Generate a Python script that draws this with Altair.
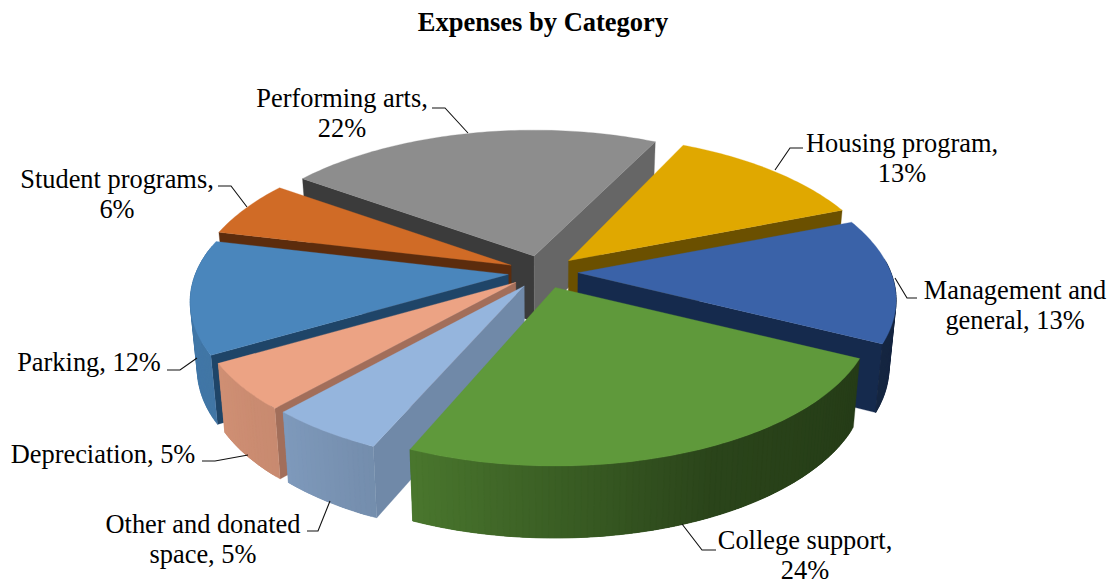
import math
import numpy as np
import pandas as pd
import altair as alt

categories = ["Housing program", "Management and general", "College support",
              "Other and donated space", "Depreciation", "Parking",
              "Student programs", "Performing arts"]
shares = [12.1, 13.3, 24.0, 5.3, 5.0, 12.1, 6.1, 22.1]
top_colors = ["#E0A800", "#3A62A8", "#5F993B", "#95B5DD", "#ECA384", "#4A86BC", "#D06B26", "#8D8D8D"]
start_cut = [None, None, None, "#7089A8", "#A26E5A", "#1F4568", "#5C2C0D", "#3B3B3B"]
end_cut = ["#6B5000", "#152A4D", None, None, None, None, None, "#666666"]
draw_order = [7, 0, 6, 1, 5, 4, 3, 2]
start_nudge = [0, 0, 0, 1.0, 0, 0, 0, 0]
end_nudge = [0, 0, 0, 0, 0, 0, 0, 1.5]

label_lines = [
    (["Housing program,", "13%"], 902, 144),
    (["Management and", "general, 13%"], 1015, 291),
    (["College support,", "24%"], 805, 541),
    (["Other and donated", "space, 5%"], 203, 525),
    (["Depreciation, 5%"], 103, 455),
    (["Parking, 12%"], 89, 363),
    (["Student programs,", "6%"], 117, 180),
    (["Performing arts,", "22%"], 342, 99),
]
leaders = [
    [(803, 148), (790, 148), (775, 170)],
    [(917, 298), (907, 298), (895, 278)],
    [(716, 550), (702, 550), (682, 524)],
    [(307, 531), (318, 531), (330, 501)],
    [(202, 461), (215, 461), (248, 455)],
    [(167, 370), (180, 370), (197, 358)],
    [(218, 186), (231, 186), (247, 207)],
    [(432, 108), (445, 108), (468, 133)],
]

CX, CY, EXPLODE, TILT = 543, 272, 35, 0.47
START_ANGLE = 25


def shade(hex_color, k):
    rgb = [int(hex_color[i:i + 2], 16) for i in (1, 3, 5)]
    return "#%02x%02x%02x" % tuple(int(c * k) for c in rgb)


def rim(ax, ay, deg):
    t = math.radians(deg)
    v = -math.cos(t)
    rad = 313 + 56 * v + 11 * v * v
    return ax + rad * math.sin(t), ay + TILT * rad * (-math.cos(t)), v


def down(x, y, v):
    return CX + (x - CX) * 0.98, y + 66 + 6 * v


rows = []
pid = 0


def add(points, color):
    global pid
    for j, (x, y) in enumerate(list(points) + [points[0]]):
        rows.append({"x": x, "y": y, "poly": pid, "j": j, "color": color})
    pid += 1


bounds = [START_ANGLE]
for s in shares:
    bounds.append(bounds[-1] + s * 3.6)

for i in draw_order:
    a0, a1 = bounds[i], bounds[i + 1]
    mid = math.radians((a0 + a1) / 2)
    ax = CX + EXPLODE * math.sin(mid)
    ay = CY - EXPLODE * TILT * math.cos(mid)
    a0 += start_nudge[i]
    a1 += end_nudge[i]
    apex_low = down(ax, ay, 0)
    for ang, col in ((a0, start_cut[i]), (a1, end_cut[i])):
        if col:
            x, y, v = rim(ax, ay, ang)
            add([(ax, ay), (x, y), down(x, y, v), apex_low], col)
    angs = np.linspace(a0, a1, int((a1 - a0)) + 2)
    for n, p in enumerate(angs[:-1]):
        q_far = angs[min(n + 3, len(angs) - 1)]
        q = angs[n + 1]
        m = (p + q) / 2 % 360
        if 85 < m < 280:
            k = float(np.interp(m, [90, 116, 155, 180, 203, 222, 240, 270],
                                [0.38, 0.39, 0.45, 0.62, 0.78, 0.85, 0.88, 0.9]))
            mids = [a for a in angs if p <= a <= q_far]
            front = [rim(ax, ay, a) for a in mids]
            add([f[:2] for f in front] + [down(*f) for f in reversed(front)], shade(top_colors[i], k))
    top = [(ax, ay)] + [rim(ax, ay, a)[:2] for a in np.linspace(a0, a1, int((a1 - a0)) + 2)]
    add(top, top_colors[i])

poly = pd.DataFrame(rows)
xs = alt.Scale(domain=[8, 1110], range=[0, 1102], nice=False, zero=False)
ys = alt.Scale(domain=[8, 584], range=[0, 576], nice=False, zero=False)
X = alt.X("x:Q", scale=xs, axis=None)
Y = alt.Y("y:Q", scale=ys, axis=None)

pie = alt.Chart(poly).mark_line(strokeWidth=0.3, interpolate="linear").encode(
    x=X, y=Y, detail="poly:N", order="j:Q",
    fill=alt.Fill("color:N", scale=None), stroke=alt.Stroke("color:N", scale=None),
)

lead_df = pd.DataFrame([
    {"x": x, "y": y, "k": n, "j": j}
    for n, pts in enumerate(leaders) for j, (x, y) in enumerate(pts)
])
lead = alt.Chart(lead_df).mark_line(color="#111111", strokeWidth=1.1).encode(
    x=X, y=Y, detail="k:N", order="j:Q")

text_df = pd.DataFrame([
    {"x": x, "y": y + 30 * n, "t": line}
    for lines, x, y in label_lines for n, line in enumerate(lines)
])
text = alt.Chart(text_df).mark_text(font="Liberation Serif", fontSize=26.4, color="#000000").encode(
    x=X, y=Y, text="t:N")

title_df = pd.DataFrame([{"x": 543, "y": 23, "t": "Expenses by Category"}])
title = alt.Chart(title_df).mark_text(font="Liberation Serif", fontSize=26.5, fontWeight="bold", color="#000000").encode(
    x=X, y=Y, text="t:N")

chart = alt.layer(pie, lead, text, title).properties(
    width=1102, height=576, padding=0, autosize=alt.AutoSizeParams(type="none"),
    background="#ffffff",
).configure_view(stroke=None)
chart.save("out.html", embed_options={"renderer": "svg", "actions": False})
